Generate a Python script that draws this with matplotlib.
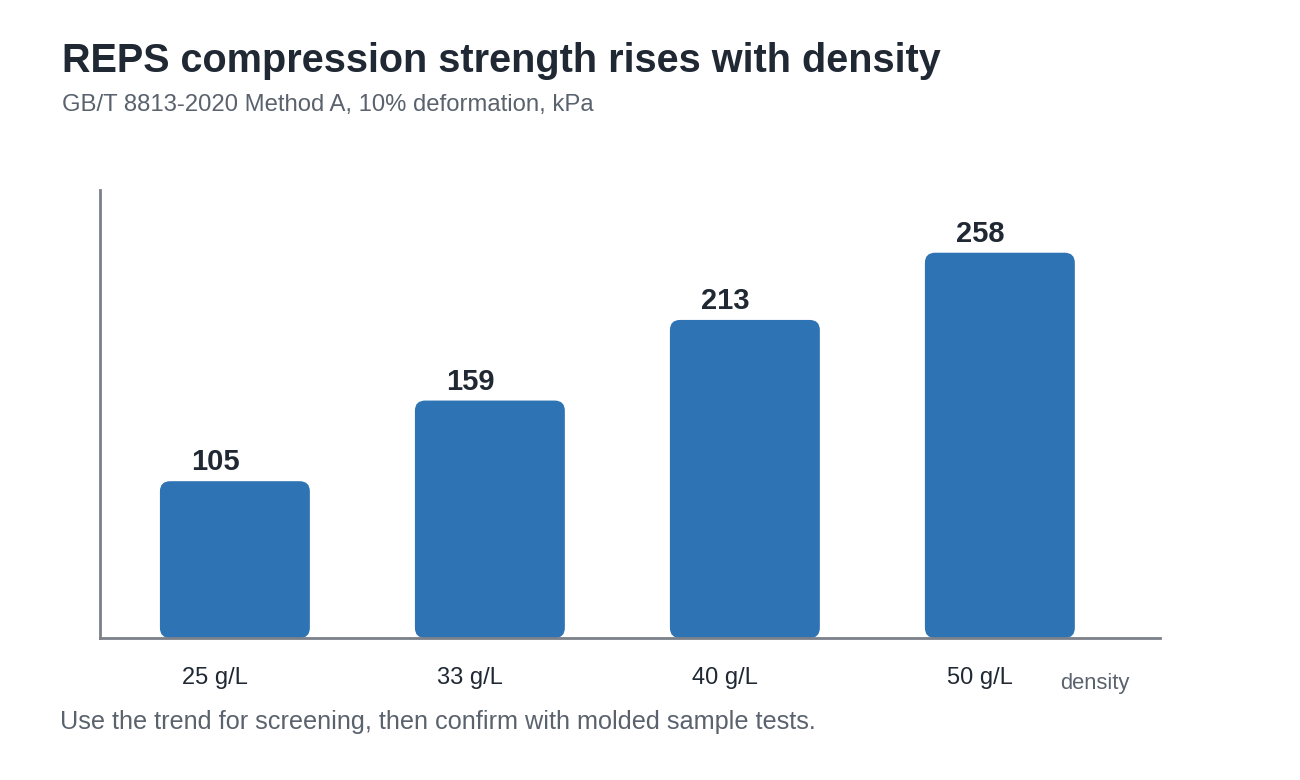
import matplotlib
matplotlib.use("Agg")
import matplotlib.pyplot as plt
from matplotlib.patches import FancyBboxPatch

plt.rcParams['font.family'] = ['Liberation Sans', 'DejaVu Sans']

# data
densities = ["25 g/L", "33 g/L", "40 g/L", "50 g/L"]
strength_kpa = [105, 159, 213, 258]

title = "REPS compression strength rises with density"
subtitle = "GB/T 8813-2020 Method A, 10% deformation, kPa"
note = "Use the trend for screening, then confirm with molded sample tests."

bar_color = "#2e73b3"
dark = "#1f2833"
grey = "#5a626d"
axis_grey = "#7b8089"

fig = plt.figure(figsize=(13, 7.8), dpi=100)
ax = fig.add_axes([100/1300, 1 - 638/780, 1060/1300, 448/780])

ax.set_xlim(-0.451, 3.706)
ax.set_ylim(0, 300)

bar_w = 0.588
shift = 0.078  # bars sit a bit right of the label anchor
for i, v in enumerate(strength_kpa):
    left = i + shift - bar_w / 2
    patch = FancyBboxPatch((left, 0), bar_w, v,
                           boxstyle="round,pad=0,rounding_size=0.04",
                           mutation_aspect=170,
                           facecolor=bar_color, edgecolor="none", zorder=2)
    ax.add_patch(patch)
    ax.annotate(str(v), (i, v), xytext=(0, 3.5), textcoords="offset points",
                ha="center", va="bottom", fontsize=21, fontweight="bold",
                color=dark)

ax.set_xticks(range(len(densities)))
ax.set_xticklabels(densities, fontsize=17, color=dark)
ax.tick_params(axis="x", length=0, pad=21)
ax.set_yticks([])

for s in ["top", "right"]:
    ax.spines[s].set_visible(False)
for s in ["left", "bottom"]:
    ax.spines[s].set_color(axis_grey)
    ax.spines[s].set_linewidth(2)

ax.text(1060/1300, 1 - 684/780, "density", transform=fig.transFigure,
        ha="left", va="center", fontsize=15.8, color=grey)

fig.text(62/1300, 1 - 61/780, title, fontsize=28.5, fontweight="bold",
         color=dark, ha="left", va="center")
fig.text(62/1300, 1 - 105/780, subtitle, fontsize=17.2, color=grey,
         ha="left", va="center")
fig.text(60/1300, 1 - 722/780, note, fontsize=18.2, color=grey,
         ha="left", va="center")

fig.savefig("out.png", dpi=100)
